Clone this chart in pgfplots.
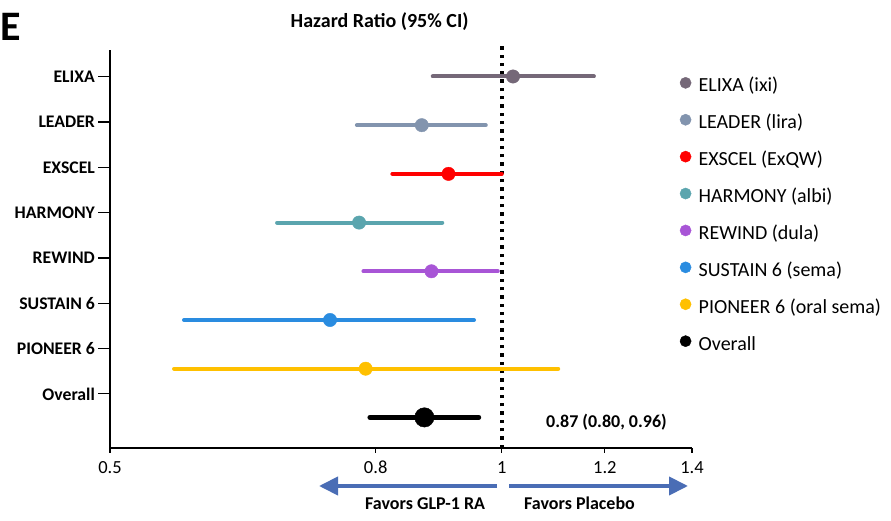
\documentclass[border=0pt]{standalone}
\usepackage{fontspec}
\setmainfont{Carlito}
\usepackage{pgfplots}
\pgfplotsset{compat=1.18}
\usetikzlibrary{arrows.meta}
\definecolor{cElixa}{HTML}{756878}
\definecolor{cLeader}{HTML}{8294AE}
\definecolor{cExscel}{HTML}{FF0000}
\definecolor{cHarmony}{HTML}{5BA5AE}
\definecolor{cRewind}{HTML}{A855D6}
\definecolor{cSustain}{HTML}{2A8CE0}
\definecolor{cPioneer}{HTML}{FFC000}
\definecolor{cArrow}{HTML}{4A6DB5}
\begin{document}
\begin{tikzpicture}[x=1pt,y=1pt]
\path[use as bounding box] (0,0) rectangle (891,521);
\begin{axis}[
  at={(110pt,73pt)}, anchor=south west, scale only axis,
  width=582pt, height=398pt,
  xmode=log, xmin=0.5, xmax=1.4, ymin=0, ymax=398,
  clip=false,
  axis x line*=bottom, axis y line*=left,
  axis line style={line width=1.5pt, black, -},
  xtick={0.5,0.8,1,1.2,1.4}, xticklabels={0.5,0.8,1,1.2,1.4},
  minor xtick={},
  ytick={371.3,326,280.7,235.4,190,144.7,99.4,54.1},
  yticklabels={ELIXA,LEADER,EXSCEL,HARMONY,REWIND,SUSTAIN 6,PIONEER 6,Overall},
  tick align=outside, major tick length=12pt,
  tick style={black, line width=1.2pt},
  xtick style={/pgfplots/major tick length=5pt},
  /pgf/number format/assume math mode=true,
  xticklabel style={font=\fontsize{18.5}{20}\selectfont, inner sep=1pt},
  yticklabel style={font=\fontsize{17.7}{20}\selectfont\bfseries, inner sep=1pt, xshift=-2pt},
  legend style={at={(axis description cs:0.979,0.932)}, anchor=north west,
    draw=none, fill=none, inner sep=0pt, row sep=18.3pt, column sep=7.5pt,
    font=\fontsize{20}{24}\selectfont,
    nodes={inner sep=0pt, text height=14pt, text depth=4pt}},
  legend cell align=left,
  legend image code/.code={\draw[#1] plot coordinates {(6pt,4pt)};},
]
% reference line at HR = 1
\addplot[black, line width=3.5pt, dash pattern=on 3.3pt off 5pt, forget plot] coordinates {(1,0) (1,404)};
% confidence intervals
\addplot[cElixa, line width=4pt, line cap=round, forget plot] coordinates {(0.885,371.5) (1.177,371.5)};
\addplot[cLeader, line width=4pt, line cap=round, forget plot] coordinates {(0.774,322.8) (0.972,322.8)};
\addplot[cExscel, line width=4pt, line cap=round, forget plot] coordinates {(0.824,274.1) (1.00,274.1)};
\addplot[cHarmony, line width=4pt, line cap=round, forget plot] coordinates {(0.672,225.4) (0.90,225.4)};
\addplot[cRewind, line width=4pt, line cap=round, forget plot] coordinates {(0.783,176.7) (0.993,176.7)};
\addplot[cSustain, line width=4pt, line cap=round, forget plot] coordinates {(0.570,128.0) (0.952,128.0)};
\addplot[cPioneer, line width=4pt, line cap=round, forget plot] coordinates {(0.560,79.3) (1.105,79.3)};
\addplot[black, line width=5pt, line cap=round, forget plot] coordinates {(0.792,30.6) (0.96,30.6)};
% point estimates
\addplot[cElixa, only marks, mark=*, mark size=6.7pt, forget plot] coordinates {(1.02,371.5)};
\addplot[cLeader, only marks, mark=*, mark size=6.7pt, forget plot] coordinates {(0.868,322.8)};
\addplot[cExscel, only marks, mark=*, mark size=6.7pt, forget plot] coordinates {(0.91,274.1)};
\addplot[cHarmony, only marks, mark=*, mark size=6.7pt, forget plot] coordinates {(0.777,225.4)};
\addplot[cRewind, only marks, mark=*, mark size=6.7pt, forget plot] coordinates {(0.883,176.7)};
\addplot[cSustain, only marks, mark=*, mark size=6.7pt, forget plot] coordinates {(0.738,128.0)};
\addplot[cPioneer, only marks, mark=*, mark size=6.7pt, forget plot] coordinates {(0.786,79.3)};
\addplot[black, only marks, mark=*, mark size=9.7pt, forget plot] coordinates {(0.872,30.6)};
% legend
\addlegendimage{only marks, mark=*, mark size=5.6pt, cElixa}
\addlegendentry{ELIXA (ixi)}
\addlegendimage{only marks, mark=*, mark size=5.6pt, cLeader}
\addlegendentry{LEADER (lira)}
\addlegendimage{only marks, mark=*, mark size=5.6pt, cExscel}
\addlegendentry{EXSCEL (ExQW)}
\addlegendimage{only marks, mark=*, mark size=5.6pt, cHarmony}
\addlegendentry{HARMONY (albi)}
\addlegendimage{only marks, mark=*, mark size=5.6pt, cRewind}
\addlegendentry{REWIND (dula)}
\addlegendimage{only marks, mark=*, mark size=5.6pt, cSustain}
\addlegendentry{SUSTAIN 6 (sema)}
\addlegendimage{only marks, mark=*, mark size=5.6pt, cPioneer}
\addlegendentry{PIONEER 6 (oral sema)}
\addlegendimage{only marks, mark=*, mark size=5.6pt, black}
\addlegendentry{Overall}
\end{axis}
% texts and arrows
\node[anchor=base west, inner sep=0pt, font=\fontsize{42}{46}\selectfont\bfseries] at (0.5,480.5) {E};
\node[anchor=base west, inner sep=0pt, font=\fontsize{20}{24}\selectfont\bfseries] at (290.5,493.7) {Hazard Ratio (95\% CI)};
\node[anchor=base west, inner sep=0pt, font=\fontsize{18}{22}\selectfont\bfseries] at (546,93) {0.87 (0.80, 0.96)};
\draw[cArrow, line width=4pt, -{Triangle[length=19pt,width=18pt]}] (497,35) -- (319,35);
\draw[cArrow, line width=4pt, -{Triangle[length=19pt,width=18pt]}] (509,35) -- (688,35);
\node[anchor=base west, inner sep=0pt, font=\fontsize{18}{22}\selectfont\bfseries] at (365,11) {Favors GLP-1 RA};
\node[anchor=base west, inner sep=0pt, font=\fontsize{18}{22}\selectfont\bfseries] at (524,11) {Favors Placebo};
\end{tikzpicture}
\end{document}
